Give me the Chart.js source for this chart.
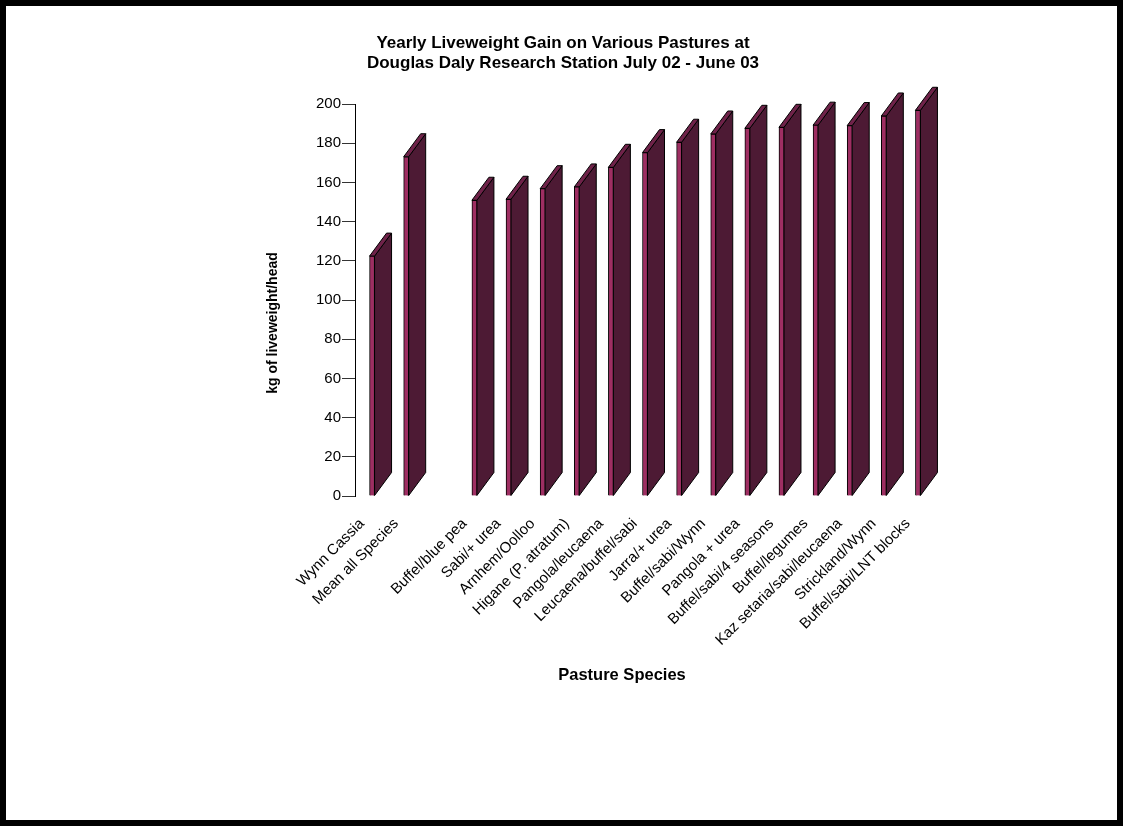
<!DOCTYPE html>
<html>
<head>
    <title>Yearly Liveweight Gain - Douglas Daly</title>
    <script src="https://cdn.jsdelivr.net/npm/chart.js"></script>
    <style>
        html, body { margin: 0; padding: 0; background: #fff; }
        .frame {
            width: 1123px;
            height: 826px;
            box-sizing: border-box;
            border: 6px solid #000;
        }
        .frame canvas { display: block; }
    </style>
</head>
<body>
<div class="frame"><canvas id="lwgChart" width="1111" height="814"></canvas></div>
<script>
    const chartTitle = ['Yearly Liveweight Gain on Various Pastures at',
                        'Douglas Daly Research Station July 02 - June 03'];
    const xTitle = 'Pasture Species';
    const yTitle = 'kg of liveweight/head';

    const pastures = [
        'Wynn Cassia', 'Mean all Species', '',
        'Buffel/blue pea', 'Sabi/+ urea', 'Arnhem/Oolloo', 'Higane (P. atratum)',
        'Pangola/leucaena', 'Leucaena/buffel/sabi', 'Jarra/+ urea', 'Buffel/sabi/Wynn',
        'Pangola + urea', 'Buffel/sabi/4 seasons', 'Buffel/legumes',
        'Kaz setaria/sabi/leucaena', 'Strickland/Wynn', 'Buffel/sabi/LNT blocks'
    ];
    // kg liveweight gain per head, July 02 - June 03
    const gains = [122.4, 173.1, null, 150.9, 151.4, 156.8, 157.7, 167.7, 175.2,
                   180.5, 184.7, 187.6, 188.1, 189.2, 189.0, 193.9, 196.8];
    const yTicks = { min: 0, max: 200, step: 20 };

    const FONT = '"Liberation Sans", Arial, sans-serif';
    Chart.defaults.font.family = FONT;
    Chart.defaults.color = '#000';

    // side + top faces so the thin bars look like Excel's 3D columns
    const depthFaces = {
        id: 'depthFaces',
        beforeDatasetsDraw(chart, args, opts) {
            const ctx = chart.ctx;
            const meta = chart.getDatasetMeta(0);
            ctx.save();
            ctx.lineWidth = 1;
            ctx.strokeStyle = '#000';
            meta.data.forEach((bar, i) => {
                if (gains[i] == null) return;
                const { x, y, base, width } = bar.getProps(['x', 'y', 'base', 'width'], true);
                const l = x - width / 2, r = x + width / 2;
                const dx = opts.dx, dy = opts.dy;

                ctx.beginPath();
                ctx.moveTo(r, y);
                ctx.lineTo(r + dx, y + dy);
                ctx.lineTo(r + dx, base + dy);
                ctx.lineTo(r, base);
                ctx.closePath();
                ctx.fillStyle = opts.side;
                ctx.fill();
                ctx.stroke();

                ctx.beginPath();
                ctx.moveTo(l, y);
                ctx.lineTo(r, y);
                ctx.lineTo(r + dx, y + dy);
                ctx.lineTo(l + dx, y + dy);
                ctx.closePath();
                ctx.fillStyle = opts.top;
                ctx.fill();
                ctx.stroke();
            });
            ctx.restore();
        }
    };

    // axis captions sit off-centre in the original, so place them by hand
    const axisCaptions = {
        id: 'axisCaptions',
        afterDraw(chart, args, opts) {
            const ctx = chart.ctx;
            ctx.save();
            ctx.fillStyle = '#000';
            ctx.textAlign = 'center';
            ctx.textBaseline = 'middle';

            ctx.font = 'bold 16.5px ' + FONT;
            ctx.fillText(xTitle, opts.x.x, opts.x.y);

            ctx.translate(opts.y.x, opts.y.y);
            ctx.rotate(-Math.PI / 2);
            ctx.font = 'bold 14px ' + FONT;
            ctx.fillText(yTitle, 0, 0);
            ctx.restore();
        }
    };

    new Chart(document.getElementById('lwgChart').getContext('2d'), {
        type: 'bar',
        data: {
            labels: pastures,
            datasets: [{
                label: 'Liveweight gain',
                data: gains,
                backgroundColor: '#9E2E62',
                borderColor: '#000',
                borderWidth: 1,
                barThickness: 5
            }]
        },
        options: {
            responsive: false,
            animation: false,
            layout: { padding: { left: 185, right: 182, top: 0, bottom: 131 } },
            plugins: {
                legend: { display: false },
                tooltip: { enabled: false },
                title: {
                    display: true,
                    text: chartTitle,
                    color: '#000',
                    font: { size: 17, weight: 'bold', lineHeight: 20 / 17 },
                    padding: { top: 27, bottom: 31 }
                },
                depthFaces: { dx: 17, dy: -23, side: '#4D1A34', top: '#6F2249' },
                axisCaptions: { x: { x: 616, y: 669 }, y: { x: 267, y: 317 } }
            },
            scales: {
                x: {
                    grid: { display: false, drawTicks: false },
                    border: { display: false },
                    ticks: {
                        autoSkip: false,
                        minRotation: 45,
                        maxRotation: 45,
                        labelOffset: -10,
                        padding: 19,
                        color: '#000',
                        font: { size: 15 }
                    },
                    afterFit(scale) { scale.height = 193; }
                },
                y: {
                    min: yTicks.min,
                    max: yTicks.max,
                    ticks: { stepSize: yTicks.step, padding: 1, color: '#000', font: { size: 15 } },
                    grid: { drawOnChartArea: false, drawTicks: true, tickLength: 13, color: '#333' },
                    border: { display: true, color: '#000', width: 1 },
                    afterFit(scale) { scale.width = 164; }
                }
            }
        },
        plugins: [depthFaces, axisCaptions]
    });
</script>
</body>
</html>
